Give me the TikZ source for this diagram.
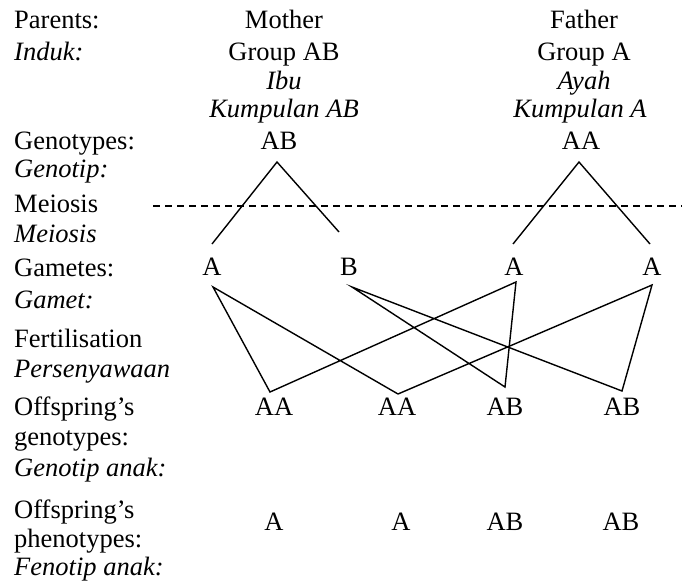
\documentclass[tikz,border=0pt]{standalone}
\usepackage{fontspec}
\setmainfont{Liberation Serif}
\begin{document}
\begin{tikzpicture}[x=1pt,y=-1pt,
  lbl/.style={anchor=base west,inner sep=0pt,font=\fontsize{26.5}{30}\selectfont},
  ilbl/.style={anchor=base west,inner sep=0pt,font=\fontsize{26.5}{30}\selectfont\itshape},
  txt/.style={anchor=base,inner sep=0pt,font=\fontsize{26.5}{30}\selectfont},
  itxt/.style={anchor=base,inner sep=0pt,font=\fontsize{26.5}{30}\selectfont\itshape},
  link/.style={line width=1.4pt,line join=miter},
  meiosisline/.style={line width=1.2pt,dash pattern=on 7pt off 5pt}]
\useasboundingbox[fill=white] (0,0) rectangle (682,581);

% left column labels
\node[lbl]  (l1)  at (14,28)  {Parents:};
\node[ilbl] (l2)  at (14,60)  {Induk:};
\node[lbl]  (l3)  at (14,149) {Genotypes:};
\node[ilbl] (l4)  at (14,177) {Genotip:};
\node[lbl]  (l5)  at (14,212) {Meiosis};
\node[ilbl] (l6)  at (14,242) {Meiosis};
\node[lbl]  (l7)  at (14,276) {Gametes:};
\node[ilbl] (l8)  at (14,308) {Gamet:};
\node[lbl]  (l9)  at (14,347) {Fertilisation};
\node[ilbl] (l10) at (14,377) {Persenyawaan};
\node[lbl]  (l11) at (14,415) {Offspring’s};
\node[lbl]  (l12) at (14,445) {genotypes:};
\node[ilbl] (l13) at (14,476) {Genotip anak:};
\node[lbl]  (l14) at (14,518) {Offspring’s};
\node[lbl]  (l15) at (14,547) {phenotypes:};
\node[ilbl] (l16) at (14,575) {Fenotip anak:};

% parents
\node[txt]  (mo1) at (284,28)  {Mother};
\node[txt]  (mo2) at (284,60)  {Group AB};
\node[itxt] (mo3) at (284,89)  {Ibu};
\node[itxt] (mo4) at (284,117) {Kumpulan AB};
\node[txt]  (fa1) at (584,28)  {Father};
\node[txt]  (fa2) at (584,60)  {Group A};
\node[itxt] (fa3) at (584,89)  {Ayah};
\node[itxt] (fa4) at (580,117) {Kumpulan A};

% genotypes
\node[txt] (gm) at (279,149) {AB};
\node[txt] (gf) at (581,149) {AA};

% gametes
\node[txt] (gA1) at (212,275) {A};
\node[txt] (gB)  at (349,275) {B};
\node[txt] (gA3) at (514,275) {A};
\node[txt] (gA4) at (652,275) {A};

% offspring genotypes
\node[txt] (o1) at (274,415) {AA};
\node[txt] (o2) at (397,415) {AA};
\node[txt] (o3) at (505,415) {AB};
\node[txt] (o4) at (622,415) {AB};

% offspring phenotypes
\node[txt] (p1) at (274,530) {A};
\node[txt] (p2) at (401,530) {A};
\node[txt] (p3) at (505,530) {AB};
\node[txt] (p4) at (621,530) {AB};

% meiosis line
\coordinate (dL) at (153,206);
\coordinate (dR) at (682,206);
\draw[meiosisline] (dL) -- (dR);

% meiosis triangles
\coordinate (am) at (277,162);
\coordinate (aml) at (212,244);
\coordinate (amr) at (339,232);
\coordinate (af) at (579,162);
\coordinate (afl) at (513,244);
\coordinate (afr) at (650,244);
\draw[link] (aml) -- (am) -- (amr);
\draw[link] (afl) -- (af) -- (afr);

% fertilisation lines
\coordinate (sA1) at (213,287);
\coordinate (sB)  at (352,287);
\coordinate (sA3) at (516,282);
\coordinate (sA4) at (652,285);
\coordinate (e1) at (270,392);
\coordinate (e2) at (398,394);
\coordinate (e3) at (505,387);
\coordinate (e4) at (622,391);
\draw[link] (e2) -- (sA1) -- (e1) -- (sA3) -- (e3) -- (sB) -- (e4) -- (sA4) -- (e2);
\end{tikzpicture}
\end{document}
